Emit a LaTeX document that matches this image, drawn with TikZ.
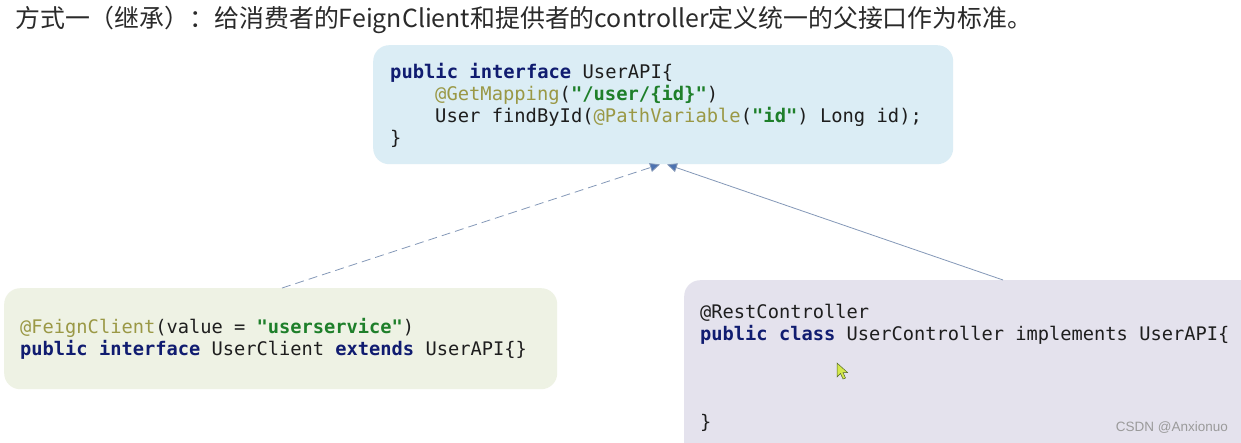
\documentclass[tikz,border=0pt]{standalone}
\usepackage{fontspec}
\newfontfamily\cjk{Noto Sans CJK SC}
\newfontfamily\codefont{DejaVu Sans Mono}
\newfontfamily\wmfont{Liberation Sans}
\usetikzlibrary{arrows.meta,calc}
\definecolor{apifill}{HTML}{DBEDF5}
\definecolor{feignfill}{HTML}{EEF2E4}
\definecolor{ctrlfill}{HTML}{E4E2ED}
\definecolor{kwc}{HTML}{101C70}
\definecolor{anc}{HTML}{9A9845}
\definecolor{strc}{HTML}{1E7F2A}
\definecolor{txtc}{HTML}{1E1E1E}
\definecolor{titlec}{HTML}{2A2A2A}
\definecolor{arrowc}{HTML}{4C72B0}
\definecolor{linec}{HTML}{8498B8}
\definecolor{wmc}{HTML}{9A9A9A}
\newcommand\cdkw[1]{\textbf{\color{kwc}#1}}
\newcommand\cdan[1]{{\color{anc}#1}}
\newcommand\cdstr[1]{\textbf{\color{strc}#1}}
\tikzset{
  codebox/.style={rectangle, rounded corners=16pt, draw=none, anchor=north west, inner sep=0pt},
  codeA/.style={anchor=base west, inner sep=0pt, text=txtc, font=\codefont\fontsize{18.8}{22}\selectfont},
  codeB/.style={anchor=base west, inner sep=0pt, text=txtc, font=\codefont\fontsize{18.7}{22}\selectfont},
  inherit/.style={draw=linec, line width=0.8pt, -{Triangle[length=10pt,width=9pt,fill=arrowc]}},
}
\begin{document}
\begin{tikzpicture}[x=1pt,y=-1pt]
\clip (0,0) rectangle (1241,442);
\fill[white] (0,0) rectangle (1241,442);
% title
\node[anchor=base west, inner sep=0pt, text=titlec, font=\cjk\fontsize{24.9}{28}\selectfont] (title) at (15,27.5) {方式一（继承）：给消费者的FeignClient和提供者的controller定义统一的父接口作为标准。};
% boxes
\node[codebox, fill=apifill, minimum width=580pt, minimum height=119pt] (api) at (373,45) {};
\node[codebox, fill=feignfill, minimum width=553pt, minimum height=101pt] (feign) at (4,288) {};
\node[codebox, fill=ctrlfill, minimum width=620pt, minimum height=200pt] (ctrl) at (684,280) {};
% top code
\node[codeA] (a1) at (390,78) {\cdkw{public} \cdkw{interface} UserAPI\{};
\node[codeA] (a2) at (435,100) {\cdan{@GetMapping}(\cdstr{"/user/\{id\}"})};
\node[codeA] (a3) at (435,122) {User findById(\cdan{@PathVariable}(\cdstr{"id"}) Long id);};
\node[codeA] (a4) at (390,144) {\}};
% left code
\node[codeB] (f1) at (20,333) {\cdan{@FeignClient}(value = \cdstr{"userservice"})};
\node[codeB] (f2) at (20,355) {\cdkw{public} \cdkw{interface} UserClient \cdkw{extends} UserAPI\{\}};
% right code
\node[codeB] (c1) at (700,318) {@RestController};
\node[codeB] (c2) at (700,340) {\cdkw{public} \cdkw{class} UserController implements UserAPI\{};
\node[codeB] (c3) at (700,428) {\}};
% connectors
\coordinate (apiInL) at ($(api.south west)+(287,0)$);
\coordinate (apiInR) at ($(api.south west)+(294,0)$);
\coordinate (feignOut) at ($(feign.north west)+(278,0)$);
\coordinate (ctrlOut) at ($(ctrl.north west)+(319,0)$);
\draw[inherit, dash pattern=on 9pt off 5pt] (feignOut) -- (apiInL);
\draw[inherit] (ctrlOut) -- (apiInR);
% cursor
\filldraw[fill={rgb,255:red,212;green,232;blue,74}, draw={rgb,255:red,80;green,100;blue,40}, line width=0.5pt]
  (837,363) -- (837,377) -- (840.5,373.5) -- (843,379) -- (845.5,378) -- (843,372.5) -- (847.5,372.5) -- cycle;
% watermark
\node[anchor=base east, inner sep=0pt, text=wmc, font=\wmfont\fontsize{13.5}{16}\selectfont] (wm) at (1228,431) {CSDN @Anxionuo};
\end{tikzpicture}
\end{document}
